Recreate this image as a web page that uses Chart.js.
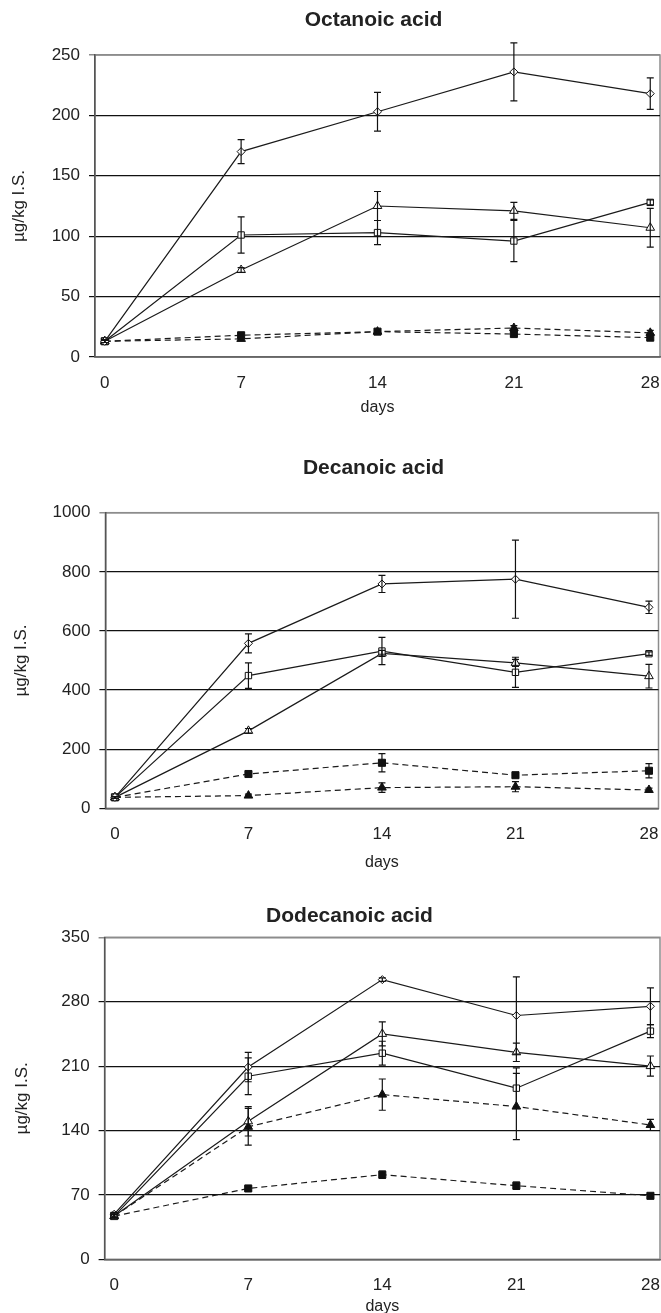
<!DOCTYPE html>
<html>
<head>
<meta charset="utf-8">
<script src="https://cdn.jsdelivr.net/npm/chart.js@4.4.1/dist/chart.umd.min.js"></script>
<style>
  html, body { margin: 0; padding: 0; background: #fff; overflow: hidden; }
  #wrap { position: relative; width: 661px; height: 1313px; overflow: hidden; }
  canvas { position: absolute; left: 0; }
</style>
</head>
<body>
<div id="wrap">
  <canvas id="c1" style="top:0px"></canvas>
  <canvas id="c2" style="top:430px"></canvas>
  <canvas id="c3" style="top:880px"></canvas>
</div>
<script>
// sampling days (x axis)
const days = [0, 7, 14, 21, 28];
const xTicks = [0, 7, 14, 21, 28];

// Octanoic acid
const octDiamond = [13, 170, 203, 236, 218];
const octDiamondErr = [1, 10, 16, 24, 13];
const octSquare = [13, 101, 103, 96, 128];
const octSquareErr = [1, 15, 10, 17, 2];
const octTriangle = [13, 72, 125, 121, 107];
const octTriangleErr = [1, 2, 12, 7, 16];
const octSquareFilled = [13, 18, 21, 19, 16];
const octSquareFilledErr = [1, 2, 1, 2, 2];
const octTriangleFilled = [13, 15, 21, 24, 20];
const octTriangleFilledErr = [1, 1, 1, 2, 2];
const octYTicks = [0, 50, 100, 150, 200, 250];

// Decanoic acid
const decDiamond = [37, 558, 759, 775, 680];
const decDiamondErr = [3, 32, 29, 132, 21];
const decSquare = [37, 449, 532, 460, 523];
const decSquareErr = [3, 43, 46, 51, 6];
const decTriangle = [37, 262, 524, 492, 447];
const decTriangleErr = [3, 8, 10, 12, 40];
const decSquareFilled = [37, 116, 154, 112, 127];
const decSquareFilledErr = [3, 8, 31, 8, 24];
const decTriangleFilled = [37, 43, 70, 73, 62];
const decTriangleFilledErr = [3, 5, 16, 17, 6];
const decYTicks = [0, 200, 400, 600, 800, 1000];

// Dodecanoic acid
const dodDiamond = [49, 209, 304, 265, 275];
const dodDiamondErr = [2, 16, 2, 42, 20];
const dodSquare = [47, 199, 224, 186, 248];
const dodSquareErr = [2, 20, 13, 22, 7];
const dodTriangle = [47, 150, 245, 225, 210];
const dodTriangleErr = [2, 16, 13, 10, 11];
const dodSquareFilled = [47, 77, 92, 80, 69];
const dodSquareFilledErr = [2, 2, 4, 4, 2];
const dodTriangleFilled = [47, 144, 179, 166, 146];
const dodTriangleFilledErr = [2, 20, 17, 36, 6];
const dodYTicks = [0, 70, 140, 210, 280, 350];

Chart.defaults.font.family = '"Liberation Sans", Arial, sans-serif';
Chart.defaults.color = '#222';

// gray plot-area frame (drawn under axes and gridlines)
const frame = {
  id: 'frame',
  beforeDraw(chart) {
    const { ctx, chartArea: a } = chart;
    ctx.save();
    ctx.strokeStyle = '#8c8c8c';
    ctx.lineWidth = 1.5;
    ctx.strokeRect(a.left, a.top, a.right - a.left, a.bottom - a.top);
    ctx.restore();
  }
};

// vertical error bars with caps
const errorBars = {
  id: 'errorBars',
  afterDatasetsDraw(chart) {
    const { ctx, scales: { x, y } } = chart;
    ctx.save();
    ctx.strokeStyle = '#111';
    ctx.lineWidth = 1.2;
    chart.data.datasets.forEach(ds => {
      ds.data.forEach((p, i) => {
        const e = ds.errors[i];
        if (!e) return;
        const px = x.getPixelForValue(p.x);
        const top = y.getPixelForValue(p.y + e);
        const bot = y.getPixelForValue(p.y - e);
        ctx.beginPath();
        ctx.moveTo(px, top); ctx.lineTo(px, bot);
        ctx.moveTo(px - 3.5, top); ctx.lineTo(px + 3.5, top);
        ctx.moveTo(px - 3.5, bot); ctx.lineTo(px + 3.5, bot);
        ctx.stroke();
      });
    });
    ctx.restore();
  }
};

const openDiamond = { shape: 'rectRot', r: 4, fill: false, dash: false };
const openSquare = { shape: 'rect', r: 4.5, fill: false, dash: false };
const openTriangle = { shape: 'triangle', r: 5, fill: false, dash: false };
const filledSquare = { shape: 'rect', r: 5, fill: true, dash: true };
const filledTriangle = { shape: 'triangle', r: 5, fill: true, dash: true };

function series(vals, errs, st) {
  return {
    data: days.map((d, i) => ({ x: d, y: vals[i] })),
    errors: errs,
    borderColor: '#1a1a1a',
    borderWidth: 1.2,
    borderDash: st.dash ? [6, 4] : [],
    pointStyle: st.shape,
    pointRadius: st.r,
    pointHoverRadius: st.r,
    pointBackgroundColor: st.fill ? '#111' : '#fff',
    pointBorderColor: '#111',
    pointBorderWidth: 1,
    tension: 0,
    clip: false
  };
}

// canvas is wider than the page (an empty right axis takes up the overhang)
// so the centred title lands where the original has it
function panel(id, title, yTicks, datasets, p) {
  const cv = document.getElementById(id);
  cv.width = p.w;
  cv.height = p.h;
  const yMax = yTicks[yTicks.length - 1];
  new Chart(cv, {
    type: 'line',
    data: { datasets },
    options: {
      responsive: false,
      animation: false,
      layout: { padding: 0 },
      plugins: {
        legend: { display: false },
        tooltip: { enabled: false },
        title: {
          display: true,
          text: title,
          color: '#222',
          font: { size: 21, weight: 'bold' },
          padding: { top: p.tpt, bottom: p.tpb }
        }
      },
      scales: {
        x: {
          type: 'linear',
          min: -0.5,
          max: 28.5,
          afterBuildTicks: s => { s.ticks = xTicks.map(v => ({ value: v })); },
          afterFit: s => { s.height = p.xH; },
          grid: { display: false, drawTicks: true, tickLength: 16 },
          border: { display: true, color: '#666', width: 1.5 },
          ticks: { font: { size: 17 }, padding: 0, color: '#222', maxRotation: 0 },
          title: { display: true, text: 'days', color: '#222', font: { size: 16 }, padding: { top: 0, bottom: p.daysPad } }
        },
        y: {
          min: 0,
          max: yMax,
          afterBuildTicks: s => { s.ticks = yTicks.map(v => ({ value: v })); },
          afterFit: s => { s.width = p.yW; },
          grid: {
            color: c => (c.tick && c.tick.value === yMax ? '#8c8c8c' : '#111'),
            lineWidth: c => (c.tick && c.tick.value === yMax ? 1.5 : 1.2),
            tickLength: 6
          },
          border: { display: true, color: '#555', width: 1.5 },
          ticks: { font: { size: 17 }, padding: 9, color: '#222', callback: v => String(v) },
          title: { display: true, text: 'µg/kg I.S.', color: '#222', font: { size: 17 }, padding: { top: p.yTitlePad, bottom: 0 } }
        },
        spacer: {
          type: 'linear',
          position: 'right',
          display: true,
          afterFit: s => { s.width = p.pr; },
          grid: { display: false, drawTicks: false },
          border: { display: false },
          ticks: { display: false }
        }
      }
    },
    plugins: [frame, errorBars]
  });
}

panel('c1', 'Octanoic acid', octYTicks, [
  series(octDiamond, octDiamondErr, openDiamond),
  series(octSquare, octSquareErr, openSquare),
  series(octTriangle, octTriangleErr, openTriangle),
  series(octSquareFilled, octSquareFilledErr, filledSquare),
  series(octTriangleFilled, octTriangleFilledErr, filledTriangle)
], { w: 747, h: 430, yW: 95, pr: 87, tpt: 8, tpb: 21.8, xH: 73, daysPad: 13.1, yTitlePad: 8.8 });

panel('c2', 'Decanoic acid', decYTicks, [
  series(decDiamond, decDiamondErr, openDiamond),
  series(decSquare, decSquareErr, openSquare),
  series(decTriangle, decTriangleErr, openTriangle),
  series(decSquareFilled, decSquareFilledErr, filledSquare),
  series(decTriangleFilled, decTriangleFilledErr, filledTriangle)
], { w: 747, h: 450, yW: 105.4, pr: 88.5, tpt: 25.5, tpb: 32, xH: 71.7, daysPad: 7.4, yTitlePad: 10.8 });

panel('c3', 'Dodecanoic acid', dodYTicks, [
  series(dodDiamond, dodDiamondErr, openDiamond),
  series(dodSquare, dodSquareErr, openSquare),
  series(dodTriangle, dodTriangleErr, openTriangle),
  series(dodSquareFilled, dodSquareFilledErr, filledSquare),
  series(dodTriangleFilled, dodTriangleFilledErr, filledTriangle)
], { w: 699, h: 437, yW: 104.6, pr: 39, tpt: 23.5, tpb: 8.6, xH: 57.7, daysPad: 0.7, yTitlePad: 11.8 });
</script>
</body>
</html>
